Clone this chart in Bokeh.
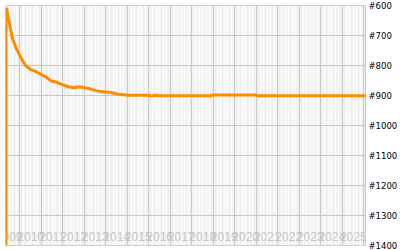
from bokeh.plotting import figure
from bokeh.models import FixedTicker, Range1d, PrintfTickFormatter, ColumnDataSource
from bokeh.core.properties import value
from bokeh.embed import file_html
from bokeh.resources import INLINE

# data: fractional year, rank
dates = [2009.349, 2009.349, 2009.40, 2009.456, 2009.549, 2009.660, 2009.814, 2009.967,
         2010.126, 2010.279, 2010.512, 2010.744, 2010.977, 2011.209, 2011.442, 2011.674,
         2011.907, 2012.219, 2012.526, 2012.758, 2013.149, 2013.456, 2013.767, 2014.233,
         2014.544, 2015.070, 2016.0, 2016.10, 2016.326, 2016.419, 2018.884, 2018.963,
         2020.977, 2021.056, 2026.2]
ranks = [1450, 608, 615, 639, 673, 711, 740, 762,
         784, 801, 814, 820, 829, 838, 851, 855,
         862, 870, 874, 871, 876, 882, 887, 890,
         896, 899, 899, 902, 899, 901, 901, 898,
         898, 901, 901]

year_labels = [str(y) for y in range(2009, 2026)]
year_ticks = list(range(2009, 2027))
rank_ticks = [600, 700, 800, 900, 1000, 1100, 1200, 1300, 1400]

p = figure(frame_width=360, frame_height=240, width=400, height=250,
           output_backend="svg", toolbar_location=None,
           x_range=Range1d(2009.33, 2026.07), y_range=Range1d(1400, 600),
           y_axis_location="right",
           min_border_left=5, min_border_top=5, min_border_bottom=5, min_border_right=35)

p.background_fill_color = "#efefef"
p.border_fill_color = "white"
p.outline_line_color = "#c8c8c8"

p.xaxis.visible = False
minor = [2009 + k / 6 for k in range(0, 6 * 18)]
p.xgrid.ticker = FixedTicker(ticks=year_ticks, minor_ticks=minor)
p.xgrid.grid_line_color = "#c8c8c8"
p.xgrid.minor_grid_line_color = "white"
p.xgrid.minor_grid_line_width = 1.5

p.yaxis.ticker = FixedTicker(ticks=rank_ticks)
p.yaxis.formatter = PrintfTickFormatter(format="#%d")
p.yaxis.axis_line_color = None
p.yaxis.major_tick_line_color = None
p.yaxis.minor_tick_line_color = None
p.yaxis.major_tick_out = 0
p.yaxis.major_label_standoff = 3
p.yaxis.major_label_text_font = "DejaVu Sans"
p.yaxis.major_label_text_font_size = "8.5px"
p.yaxis.major_label_text_color = "black"
p.ygrid.grid_line_color = "#c8c8c8"

lab_src = ColumnDataSource(dict(x=[int(y) + 0.5 for y in year_labels], y=[1400] * len(year_labels), t=year_labels))
p.text(x="x", y="y", text="t", source=lab_src, text_align="center", text_baseline="bottom",
       y_offset=-5, text_font=value("Liberation Sans"), text_font_size="12px", text_color="#c4c4c4")

p.line(dates, ranks, line_color="#ff8c00", line_width=3)

open("out.html", "w").write(file_html(p, INLINE))
